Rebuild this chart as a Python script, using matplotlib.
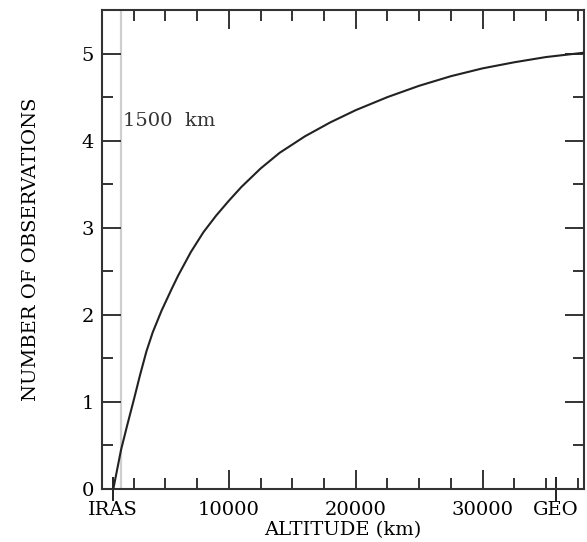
import matplotlib
matplotlib.use("Agg")
import matplotlib.pyplot as plt
from matplotlib.ticker import MultipleLocator

# Data
altitude_km = [890, 1500, 2000, 2500, 3000, 3500, 4000, 4700, 5500, 6000, 7000,
               8000, 9000, 10000, 11000, 12500, 14000, 16000, 18000,
               20000, 22500, 25000, 27500, 30000, 32500, 35000, 38000]
n_obs = [0.0, 0.45, 0.74, 1.02, 1.31, 1.58, 1.80, 2.05, 2.30, 2.45, 2.72,
         2.95, 3.14, 3.31, 3.47, 3.68, 3.86, 4.05, 4.21,
         4.35, 4.50, 4.63, 4.74, 4.83, 4.90, 4.96, 5.01]

iras_alt = 890
geo_alt = 35786
marker_alt = 1500
special_ticks = [iras_alt, geo_alt]
special_labels = ["IRAS", "GEO"]
major_xticks = [10000, 20000, 30000]
major_xlabels = ["10000", "20000", "30000"]
yticks = [0, 1, 2, 3, 4, 5]

plt.rcParams['font.family'] = ['DejaVu Serif']
fs = 14

fig = plt.figure(figsize=(5.87, 5.42), dpi=100)
ax = fig.add_axes([0.1738, 0.0978, 0.9949 - 0.1738, 0.9815 - 0.0978])

ax.axvline(marker_alt, color="#cfcfcf", lw=1.6, zorder=1)
ax.plot(altitude_km, n_obs, color="#222222", lw=1.5, zorder=3)
ax.text(1650, 4.23, "1500  km", fontsize=14, va="center", ha="left", color="#333333")

ax.set_xlim(0, 38000)
ax.set_ylim(0, 5.5)

ax.set_xticks(major_xticks)
ax.set_xticklabels(major_xlabels)
ax.xaxis.set_minor_locator(MultipleLocator(2500))
ax.set_yticks(yticks)
ax.yaxis.set_minor_locator(MultipleLocator(0.5))

ax.tick_params(which="both", direction="in", top=True, right=True, width=1.4,
               color="#333333", labelsize=fs)
ax.tick_params(which="major", length=14)
ax.tick_params(which="minor", length=8)
ax.tick_params(axis="x", which="major", pad=9)
ax.tick_params(axis="y", which="major", pad=6)

for s in ax.spines.values():
    s.set_linewidth(1.5)
    s.set_color("#333333")

sec = ax.secondary_xaxis("bottom")
sec.set_xticks(special_ticks)
sec.set_xticklabels(special_labels)
sec.tick_params(direction="inout", length=17, width=1.4, color="#222222",
                labelsize=fs, pad=0.5)
for s in sec.spines.values():
    s.set_visible(False)

ax.set_xlabel("ALTITUDE (km)", fontsize=fs, labelpad=1)
ax.set_ylabel("NUMBER OF OBSERVATIONS", fontsize=fs, labelpad=30)

fig.savefig("out.png", dpi=100)
